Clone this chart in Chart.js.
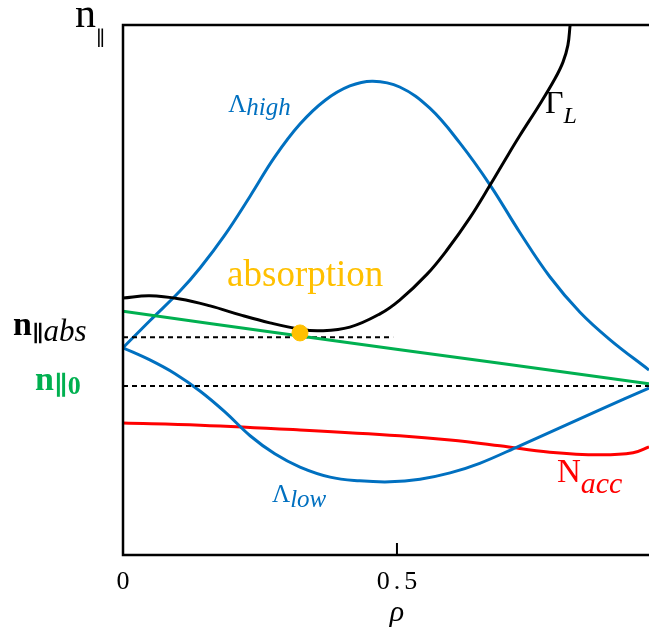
<!DOCTYPE html>
<html>
<head>
<meta charset="utf-8">
<script src="https://cdn.jsdelivr.net/npm/chart.js@4.4.1/dist/chart.umd.min.js"></script>
<style>
  body { margin: 0; background: #fff; }
  #wrap { width: 649px; height: 632px; }
</style>
</head>
<body>
<div id="wrap"><canvas id="nparChart" width="649" height="632"></canvas></div>
<script>
// rho axis and n_par values (n_par in arbitrary units, 0 = bottom, 1 = top)
const rhoTicks = [0, 0.5];
const rhoTickLabels = ["0", "0.5"];

const rhoHigh = [0, 0.049, 0.104, 0.141, 0.186, 0.232, 0.277, 0.323, 0.369, 0.414, 0.456, 0.505, 0.560, 0.615, 0.670, 0.724, 0.779, 0.834, 0.889, 0.960];
const lambdaHigh = [0.391, 0.442, 0.498, 0.542, 0.604, 0.677, 0.751, 0.813, 0.858, 0.885, 0.894, 0.883, 0.843, 0.777, 0.698, 0.609, 0.525, 0.458, 0.406, 0.349];

const rhoLow = [0, 0.049, 0.095, 0.141, 0.186, 0.232, 0.277, 0.323, 0.378, 0.432, 0.487, 0.542, 0.597, 0.651, 0.724, 0.797, 0.870, 0.960];
const lambdaLow = [0.391, 0.368, 0.342, 0.309, 0.270, 0.225, 0.191, 0.166, 0.147, 0.140, 0.138, 0.143, 0.155, 0.173, 0.206, 0.240, 0.274, 0.315];

const rhoGamma = [0, 0.049, 0.104, 0.159, 0.214, 0.268, 0.323, 0.359, 0.414, 0.469, 0.505, 0.555, 0.591, 0.633, 0.670, 0.697, 0.724, 0.761, 0.788, 0.803, 0.812, 0.816];
const gammaL = [0.485, 0.489, 0.483, 0.470, 0.453, 0.438, 0.426, 0.423, 0.430, 0.455, 0.481, 0.530, 0.575, 0.636, 0.698, 0.745, 0.791, 0.851, 0.898, 0.930, 0.962, 1.0];

const rhoN0 = [0, 0.323, 0.688, 0.960];
const n0Line = [0.460, 0.413, 0.362, 0.323];

const rhoAcc = [0, 0.141, 0.323, 0.505, 0.597, 0.688, 0.779, 0.870, 0.931, 0.960];
const nAcc = [0.249, 0.245, 0.236, 0.225, 0.217, 0.206, 0.194, 0.189, 0.193, 0.204];

const nAbs = 0.411;
const rhoAbsEnd = 0.493;
const nZero = 0.319;
const absPoint = [0.323, 0.419];

const BLUE = "#0070C0", GREEN = "#00B050", RED = "#FF0000", GOLD = "#FFC000";
const SERIF = "'Liberation Serif', 'DejaVu Serif', serif";

function pts(xs, ys) {
  return xs.map((x, i) => ({ x: x, y: ys[i] }));
}

function curve(label, xs, ys, color) {
  return {
    label: label,
    data: pts(xs, ys),
    showLine: true,
    borderColor: color,
    borderWidth: 3,
    pointRadius: 0,
    tension: 0.4,
    fill: false
  };
}

function dashed(label, y, xEnd) {
  return {
    label: label,
    data: [{ x: 0, y: y }, { x: xEnd, y: y }],
    showLine: true,
    borderColor: "#000",
    borderWidth: 2,
    borderDash: [5, 4],
    pointRadius: 0,
    fill: false
  };
}

// text drawn as runs: [text, font, color, dy]
function drawRuns(ctx, x, y, runs) {
  runs.forEach(r => {
    ctx.font = r[1];
    ctx.fillStyle = r[2];
    ctx.fillText(r[0], x, y + (r[3] || 0));
    x += ctx.measureText(r[0]).width;
  });
}

const decor = {
  id: "decor",
  afterDraw(chart) {
    const ctx = chart.ctx;
    const a = chart.chartArea;
    const xs = chart.scales.x, ys = chart.scales.y;
    ctx.save();
    // frame: left, bottom, top
    ctx.strokeStyle = "#000";
    ctx.lineWidth = 2.5;
    ctx.beginPath();
    ctx.moveTo(a.right, a.top);
    ctx.lineTo(a.left, a.top);
    ctx.lineTo(a.left, a.bottom);
    ctx.lineTo(a.right, a.bottom);
    ctx.stroke();
    // inner tick at 0.5
    ctx.lineWidth = 2;
    const tx = xs.getPixelForValue(0.5);
    ctx.beginPath();
    ctx.moveTo(tx, a.bottom);
    ctx.lineTo(tx, a.bottom - 12);
    ctx.stroke();

    ctx.textBaseline = "alphabetic";
    ctx.textAlign = "center";
    ctx.fillStyle = "#000";
    ctx.font = "26px " + SERIF;
    ctx.letterSpacing = "4px";
    rhoTicks.forEach((v, i) => {
      ctx.fillText(rhoTickLabels[i], xs.getPixelForValue(v) + 2, a.bottom + 34);
    });
    ctx.letterSpacing = "0px";
    ctx.font = "italic 30px " + SERIF;
    ctx.fillText("\u03C1", xs.getPixelForValue(0.5), a.bottom + 66);

    ctx.textAlign = "left";
    // y axis title
    drawRuns(ctx, a.left - 48, a.top + 2, [
      ["n", "42px " + SERIF, "#000"],
      ["\u2225", "20px " + SERIF, "#000", 18]
    ]);
    // left labels
    const yAbs = ys.getPixelForValue(nAbs);
    drawRuns(ctx, 13, yAbs - 2, [
      ["n", "bold 34px " + SERIF, "#000"],
      ["\u2225", "bold 22px " + SERIF, "#000", 6],
      ["abs", "italic 31px " + SERIF, "#000", 6]
    ]);
    const yZero = ys.getPixelForValue(nZero);
    drawRuns(ctx, 35, yZero + 4, [
      ["n", "bold 34px " + SERIF, GREEN],
      ["\u22250", "bold 26px " + SERIF, GREEN, 4]
    ]);

    const P = (rx, ny) => [xs.getPixelForValue(rx), ys.getPixelForValue(ny)];
    let p;
    p = P(0.192, 0.836);
    drawRuns(ctx, p[0], p[1], [
      ["\u039B", "25px " + SERIF, BLUE],
      ["high", "italic 25px " + SERIF, BLUE, 3]
    ]);
    p = P(0.770, 0.834);
    drawRuns(ctx, p[0], p[1], [
      ["\u0393", "32px " + SERIF, "#000"],
      ["L", "italic 24px " + SERIF, "#000", 10]
    ]);
    p = P(0.190, 0.508);
    drawRuns(ctx, p[0], p[1], [["absorption", "37px " + SERIF, GOLD]]);
    p = P(0.272, 0.100);
    drawRuns(ctx, p[0], p[1], [
      ["\u039B", "25px " + SERIF, BLUE],
      ["low", "italic 25px " + SERIF, BLUE, 5]
    ]);
    p = P(0.792, 0.138);
    drawRuns(ctx, p[0], p[1], [
      ["N", "33px " + SERIF, RED],
      ["acc", "italic 30px " + SERIF, RED, 11]
    ]);
    ctx.restore();
  }
};

new Chart(document.getElementById("nparChart"), {
  type: "scatter",
  data: {
    datasets: [
      {
        label: "absorption",
        data: [{ x: absPoint[0], y: absPoint[1] }],
        pointRadius: 8,
        pointBackgroundColor: GOLD,
        pointBorderColor: GOLD,
        showLine: false
      },
      curve("n0", rhoN0, n0Line, GREEN),
      dashed("n abs", nAbs, rhoAbsEnd),
      dashed("n 0", nZero, 0.96),
      curve("Gamma L", rhoGamma, gammaL, "#000"),
      curve("Lambda high", rhoHigh, lambdaHigh, BLUE),
      curve("Lambda low", rhoLow, lambdaLow, BLUE),
      curve("N acc", rhoAcc, nAcc, RED)
    ]
  },
  options: {
    responsive: false,
    animation: false,
    layout: { autoPadding: false, padding: { left: 123, top: 25, right: 0, bottom: 77 } },
    plugins: { legend: { display: false }, tooltip: { enabled: false } },
    scales: {
      x: { type: "linear", min: 0, max: 0.96, display: false },
      y: { type: "linear", min: 0, max: 1, display: false }
    }
  },
  plugins: [decor]
});
</script>
</body>
</html>
